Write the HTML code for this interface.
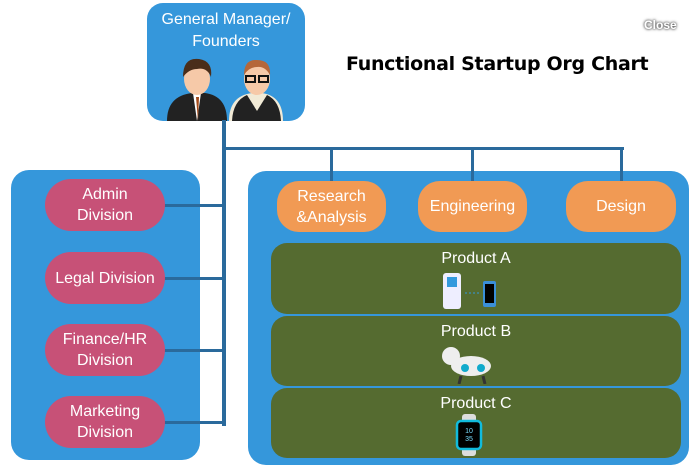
<!DOCTYPE html>
<html><head><meta charset="utf-8"><style>
body{margin:0;width:695px;height:469px;background:#fff;position:relative;overflow:hidden;font-family:"Liberation Sans",Arial,sans-serif}
.a{position:absolute;box-sizing:border-box}
.blue{background:#3597db}
.pink{background:#c75177;border-radius:26px;color:#fff;font-size:16px;display:flex;align-items:center;justify-content:center;text-align:center;line-height:21px}
.org{background:#f19a54;border-radius:22px;color:#fff;font-size:16px;display:flex;align-items:center;justify-content:center;text-align:center;line-height:21px}
.grn{background:#556b30;border-radius:16px;color:#fff;font-size:16px;text-align:center;padding-top:7px}
.ln{position:absolute;background:#2a6a9c}
</style></head><body>
<div class="a blue" style="left:147px;top:3px;width:158px;height:118px;border-radius:16px;color:#fff;font-size:16px;text-align:center;line-height:22px;padding-top:6px">General Manager/<br>Founders
<svg width="158" height="70" style="position:absolute;left:0;top:48px">
<path d="M20 70 Q20 45 45 42 L58 42 Q80 45 80 70Z" fill="#222"/><path d="M46 42 L50 70 L54 42Z" fill="#fff"/><path d="M49 46 L51 70 L52 46Z" fill="#a24a1a"/>
<ellipse cx="50" cy="28" rx="13" ry="16" fill="#f6c9a8"/><path d="M36 26 Q36 6 52 8 Q66 10 64 26 Q60 16 50 18 Q42 18 36 26Z" fill="#4a2e1a"/>
<path d="M82 70 Q82 45 105 42 L115 42 Q136 45 136 70Z" fill="#f1ead6"/><path d="M85 70 Q86 50 100 44 L110 60 L120 44 Q133 50 134 70Z" fill="#222"/>
<ellipse cx="110" cy="28" rx="13" ry="16" fill="#f6c9a8"/><path d="M97 24 Q97 8 110 9 Q124 9 123 24 Q118 15 110 16 Q102 16 97 24Z" fill="#b5673a"/>
<rect x="99" y="25" width="9" height="6" fill="none" stroke="#111" stroke-width="2"/><rect x="112" y="25" width="9" height="6" fill="none" stroke="#111" stroke-width="2"/>
</svg></div>
<div class="a" style="left:644px;top:18px;font-size:12px;font-weight:bold;color:#fff;text-shadow:0 0 3px #444,0 0 2px #666">Close</div>
<div class="a" style="left:346px;top:53px;font-size:19px;font-weight:bold;font-family:'DejaVu Sans',sans-serif;letter-spacing:-0.3px;color:#000;white-space:nowrap">Functional Startup Org Chart</div>

<div class="a blue" style="left:11px;top:170px;width:189px;height:290px;border-radius:18px"></div>
<div class="a blue" style="left:248px;top:171px;width:441px;height:294px;border-radius:18px"></div>

<div class="ln" style="left:222px;top:120px;width:4px;height:306px"></div>
<div class="ln" style="left:222px;top:147px;width:402px;height:3px"></div>
<div class="ln" style="left:330px;top:147px;width:3px;height:36px"></div>
<div class="ln" style="left:471px;top:147px;width:3px;height:36px"></div>
<div class="ln" style="left:620px;top:147px;width:3px;height:36px"></div>
<div class="ln" style="left:163px;top:204px;width:61px;height:3px"></div>
<div class="ln" style="left:163px;top:277px;width:61px;height:3px"></div>
<div class="ln" style="left:163px;top:349px;width:61px;height:3px"></div>
<div class="ln" style="left:163px;top:421px;width:61px;height:3px"></div>

<div class="a pink" style="left:45px;top:179px;width:120px;height:52px">Admin<br>Division</div>
<div class="a pink" style="left:45px;top:252px;width:120px;height:52px">Legal Division</div>
<div class="a pink" style="left:45px;top:324px;width:120px;height:52px">Finance/HR<br>Division</div>
<div class="a pink" style="left:45px;top:396px;width:120px;height:52px">Marketing<br>Division</div>

<div class="a org" style="left:277px;top:181px;width:109px;height:51px">Research<br>&amp;Analysis</div>
<div class="a org" style="left:418px;top:181px;width:109px;height:51px">Engineering</div>
<div class="a org" style="left:566px;top:181px;width:110px;height:51px">Design</div>

<div class="a grn" style="left:271px;top:243px;width:410px;height:71px">Product A
<svg width="70" height="40" style="position:absolute;left:170px;top:28px"><rect x="2" y="2" width="18" height="36" rx="3" fill="#eef"/><rect x="6" y="6" width="10" height="10" fill="#39d"/><rect x="42" y="10" width="13" height="26" rx="2" fill="#3a8fd8"/><rect x="44" y="13" width="9" height="19" fill="#000"/><path d="M24 22 L38 22" stroke="#39d" stroke-dasharray="2 2"/></svg></div>
<div class="a grn" style="left:271px;top:316px;width:410px;height:70px">Product B
<svg width="60" height="40" style="position:absolute;left:168px;top:28px"><ellipse cx="32" cy="22" rx="20" ry="10" fill="#eee"/><circle cx="12" cy="12" r="9" fill="#eee"/><circle cx="26" cy="24" r="4" fill="#1ac"/><circle cx="42" cy="24" r="4" fill="#1ac"/><path d="M22 32 L20 40 M44 32 L46 40" stroke="#333" stroke-width="3"/></svg></div>
<div class="a grn" style="left:271px;top:388px;width:410px;height:70px">Product C
<svg width="30" height="42" style="position:absolute;left:183px;top:26px"><rect x="8" y="0" width="14" height="42" rx="3" fill="#ddd"/><rect x="3" y="7" width="24" height="28" rx="4" fill="#000" stroke="#1bd" stroke-width="2.5"/><text x="15" y="19" font-size="7" fill="#7df" text-anchor="middle">10</text><text x="15" y="27" font-size="7" fill="#7df" text-anchor="middle">35</text></svg></div>
</body></html>
